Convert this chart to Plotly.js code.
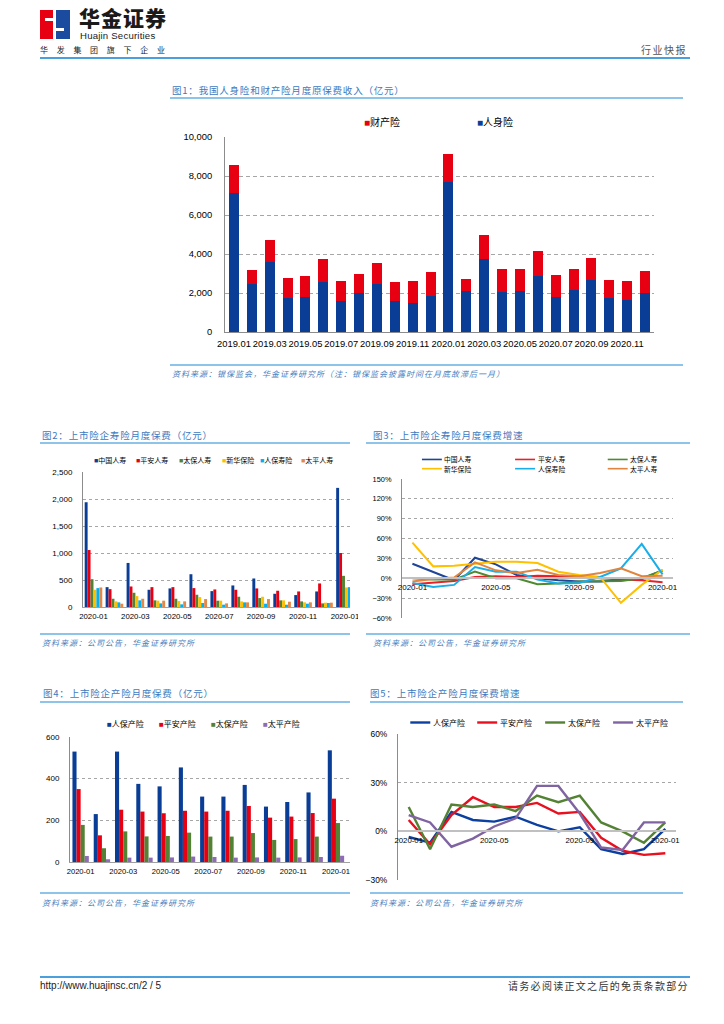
<!DOCTYPE html>
<html><head><meta charset="utf-8">
<script src="https://cdn.plot.ly/plotly-3.0.1.min.js"></script>
<style>
body{margin:0;width:724px;height:1024px;position:relative;background:#fff;overflow:hidden;font-family:"Noto Sans CJK SC",sans-serif;}
.a{position:absolute;white-space:nowrap;}
.ttl{position:absolute;white-space:nowrap;font-size:9.5px;line-height:12px;color:#3d79be;letter-spacing:0.8px;}
.hl{position:absolute;height:2px;background:#8ec4ea;}
.src{position:absolute;white-space:nowrap;font-size:8px;line-height:10px;color:#4a7fc1;font-style:italic;letter-spacing:1px;}
.chart{position:absolute;overflow:hidden;}
</style></head>
<body>
<!-- header -->
<div class="a" style="left:40px;top:10px;width:15px;height:29px;background:#e60012"></div>
<div class="a" style="left:55px;top:10px;width:15px;height:29px;background:#1b4b9e"></div>
<div class="a" style="left:53px;top:10px;width:3px;height:29px;background:#fff"></div>
<div class="a" style="left:45px;top:18px;width:8px;height:3px;background:#fff"></div>
<div class="a" style="left:56px;top:28px;width:8px;height:3px;background:#fff"></div>
<div class="a" style="left:79px;top:4px;font-size:21px;line-height:26px;font-weight:900;color:#1a1a1a;letter-spacing:1px;">华金证券</div>
<div class="a" style="left:80px;top:30px;font-size:9.6px;line-height:11px;font-family:'Liberation Sans',Arial,sans-serif;color:#1a1a1a;letter-spacing:0.2px;">Huajin Securities</div>
<div class="a" style="left:40px;top:45px;font-size:8px;line-height:10px;color:#222;letter-spacing:8.7px;">华发集团旗下企业</div>
<div class="a" style="left:641px;top:44px;font-size:10px;line-height:12px;color:#555;letter-spacing:1.5px;">行业快报</div>
<div class="a" style="left:40px;top:57px;width:650px;height:2px;background:#4aa0dc"></div>

<!-- figure titles & lines -->
<div class="ttl" style="left:172px;top:84px;">图1：我国人身险和财产险月度原保费收入（亿元）</div>
<div class="hl" style="left:170px;top:97px;width:513px;"></div>
<div class="hl" style="left:170px;top:364px;width:513px;"></div>
<div class="src" style="left:172px;top:369px;">资料来源：银保监会，华金证券研究所（注：银保监会披露时间在月底故滞后一月）</div>

<div class="ttl" style="left:42px;top:429px;">图2：上市险企寿险月度保费（亿元）</div>
<div class="hl" style="left:40px;top:442px;width:310px;"></div>
<div class="hl" style="left:40px;top:633px;width:310px;"></div>
<div class="src" style="left:42px;top:638px;">资料来源：公司公告，华金证券研究所</div>

<div class="ttl" style="left:373px;top:429px;">图3：上市险企寿险月度保费增速</div>
<div class="hl" style="left:366px;top:442px;width:324px;"></div>
<div class="hl" style="left:366px;top:633px;width:324px;"></div>
<div class="src" style="left:373px;top:638px;">资料来源：公司公告，华金证券研究所</div>

<div class="ttl" style="left:43px;top:687px;">图4：上市险企产险月度保费（亿元）</div>
<div class="hl" style="left:40px;top:701px;width:310px;"></div>
<div class="hl" style="left:40px;top:892px;width:310px;"></div>
<div class="src" style="left:42px;top:898px;">资料来源：公司公告，华金证券研究所</div>

<div class="ttl" style="left:370px;top:687px;">图5：上市险企产险月度保费增速</div>
<div class="hl" style="left:370px;top:701px;width:313px;"></div>
<div class="hl" style="left:370px;top:892px;width:313px;"></div>
<div class="src" style="left:370px;top:898px;">资料来源：公司公告，华金证券研究所</div>

<!-- footer -->
<div class="a" style="left:40px;top:976px;width:650px;height:2px;background:#4aa0dc"></div>
<div class="a" style="left:40px;top:980px;font-size:10px;line-height:12px;font-family:'Liberation Sans',Arial,sans-serif;color:#222;">http://www.huajinsc.cn/2 / 5</div>
<div class="a" style="left:508px;top:980px;font-size:10px;line-height:12px;color:#333;letter-spacing:1.3px;">请务必阅读正文之后的免责条款部分</div>

<div id="c1" class="chart"></div>
<div id="c2" class="chart"></div>
<div id="c3" class="chart"></div>
<div id="c4" class="chart"></div>
<div id="c5" class="chart"></div>

<script>
// ---------- DATA ----------
const months1 = ['2019.01','2019.02','2019.03','2019.04','2019.05','2019.06','2019.07','2019.08','2019.09','2019.10','2019.11','2019.12',
                 '2020.01','2020.02','2020.03','2020.04','2020.05','2020.06','2020.07','2020.08','2020.09','2020.10','2020.11','2020.12'];
const lifePremium = [7130,2460,3590,1740,1810,2550,1610,1980,2460,1610,1500,1830,7690,2120,3760,2070,2120,2890,1810,2140,2650,1730,1620,2020];
const propertyPremium = [1420,740,1130,1050,1040,1190,990,1010,1080,970,1115,1250,1440,600,1200,1180,1110,1280,1130,1110,1140,940,995,1125];
const ticks1 = ['2019.01','2019.03','2019.05','2019.07','2019.09','2019.11','2020.01','2020.03','2020.05','2020.07','2020.09','2020.11'];

const months2 = ['2020-01','2020-02','2020-03','2020-04','2020-05','2020-06','2020-07','2020-08','2020-09','2020-10','2020-11','2020-12','2021-01'];
const tickVals2 = ['2020-01','2020-03','2020-05','2020-07','2020-09','2020-11','2021-01'];
const tickText2 = ['2020-01','2020-03','2020-05','2020-07','2020-09','2020-11','2020-01'];
const tickVals3 = ['2020-01','2020-05','2020-09','2021-01'];
const tickText3 = ['2020-01','2020-05','2020-09','2020-01'];

const lifeNames = ['中国人寿','平安人寿','太保人寿','新华保险','人保寿险','太平人寿'];
const chinaLife   = [1940,368,816,319,344,607,294,399,528,245,221,288,2206];
const pinganLife  = [1055,331,380,368,368,350,325,319,344,301,288,436,1000];
const cpicLife    = [515,153,264,123,153,227,117,190,166,123,104,67,577];
const ncLife      = [319,104,202,117,110,184,117,104,190,123,86,80,362];
const piccLife    = [350,86,123,67,49,74,43,86,61,43,61,74,368];
const taipingLife = [362,61,153,117,104,147,67,86,147,98,86,80,370];

const chinaLifeG   = [22,10,-3,31,21,5,0,-3,-5,-5,-3,-1,12];
const pinganLifeG  = [-9,-6,-4,2,3,2,4,3,2,0,-2,-3,-6];
const cpicLifeG    = [0,-2,-2,10,0,0,-9,-8,-5,-5,-4,0,12];
const ncLifeG      = [54,18,19,22,25,25,23,10,5,2,-37,-10,13];
const piccLifeG    = [-7,-13,-10,17,10,10,-2,-8,-7,2,15,52,6];
const taipingLifeG = [-5,-1,1,24,12,8,13,5,3,8,15,3,4];

const propNames = ['人保产险','平安产险','太保产险','太平产险'];
const piccProp    = [530,230,530,375,363,454,314,314,370,266,288,334,536];
const pinganProp  = [350,128,251,242,234,246,242,246,269,213,218,235,304];
const cpicProp    = [178,66,147,123,125,141,122,122,139,106,110,122,187];
const taipingProp = [29,13,21,21,22,26,24,21,22,21,22,24,30];

const piccPropG    = [-3.5,-7,12,7,6,9,4,0,2.5,-11,-14,-11,1.5];
const pinganPropG  = [7,-8,10,21,15,15,17.5,11,12,-4,-12,-14.5,-13.5];
const cpicPropG    = [15,-11,16.5,15,16.5,12.5,22,18,22,5.5,0,-7,5.5];
const taipingPropG = [10,5.5,-9.5,-4.5,3,8,28,28,11,-10,-11.5,5.5,5.5];

// ---------- STYLE ----------
const BLUE='#0a3e96', RED='#e60012', GREEN='#548235', YELLOW='#ffc000', CYAN='#00b0f0', ORANGE='#e2884a', PURPLE='#8064a2';
const lifeColors = [BLUE, RED, GREEN, YELLOW, CYAN, ORANGE];
const lifeLineColors = ['#1f4596','#e8202a','#4f8a2f','#ffc000','#19aee9','#e0843e'];
const propColors = [BLUE, RED, GREEN, '#8d6bb5'];
const propLineColors = ['#0b3fa0','#e8101e','#548235','#8064a2'];
const NUMF = 'Liberation Sans, Arial, sans-serif';
const CJK = 'Noto Sans CJK SC, sans-serif';

function px(p,x){return (x-p.x0)/(p.x1-p.x0);}
function py(p,y){return (p.y1-y)/(p.y1-p.y0);}
function boxLeg(p,x,y,color,label,size){
  return {xref:'paper',yref:'paper',x:px(p,x),y:py(p,y),xanchor:'left',yanchor:'middle',showarrow:false,borderpad:0,
    text:'<span style="color:'+color+';font-family:Liberation Sans">■</span>'+label,font:{family:CJK,size:size,color:'#000'}};
}
function lineLeg(p,x0,x1,y,color,label,size,shapes,anns,w){
  shapes.push({type:'line',xref:'paper',yref:'paper',x0:px(p,x0),x1:px(p,x1),y0:py(p,y),y1:py(p,y),line:{color:color,width:w}});
  anns.push({xref:'paper',yref:'paper',x:px(p,x1+1.5),y:py(p,y),xanchor:'left',yanchor:'middle',showarrow:false,borderpad:0,
    text:label,font:{family:CJK,size:size,color:'#000'}});
}
function mk(id,box,p,data,extra){
  const el=document.getElementById(id);
  el.style.left=box.l+'px';el.style.top=box.t+'px';el.style.width=box.w+'px';el.style.height=box.h+'px';
  const layout=Object.assign({
    width:box.w,height:box.h,
    margin:{l:p.x0-box.l,r:box.l+box.w-p.x1,t:p.y0-box.t,b:box.t+box.h-p.y1,pad:0},
    paper_bgcolor:'rgba(0,0,0,0)',plot_bgcolor:'rgba(0,0,0,0)',showlegend:false,
    font:{family:NUMF,size:9,color:'#000'}
  },extra);
  Plotly.newPlot(el,data,layout,{staticPlot:true,displayModeBar:false});
}

// ---------- FIG 1 ----------
(function(){
  const box={l:170,t:100,w:515,h:262}, p={x0:225,y0:137,x1:654,y1:332};
  const data=[
    {type:'bar',name:'人身险',x:months1,y:lifePremium,marker:{color:BLUE}},
    {type:'bar',name:'财产险',x:months1,y:propertyPremium,marker:{color:RED}}
  ];
  mk('c1',box,p,data,{
    barmode:'stack',bargap:0.44,
    xaxis:{type:'category',range:[-0.5,23.5],tickvals:ticks1,ticktext:ticks1,ticks:'',tickangle:0,showline:true,linecolor:'#8c8c8c',linewidth:1,
           tickfont:{size:9.4,family:NUMF},showgrid:false,ticklabelstandoff:3},
    yaxis:{range:[0,10000],tickvals:[0,2000,4000,6000,8000,10000],tickformat:',',showline:true,linecolor:'#8c8c8c',
           gridcolor:'#a6a6a6',griddash:'4px,3px',zeroline:false,ticks:'',ticklabelstandoff:10,tickfont:{size:9.4,family:NUMF}},
    annotations:[boxLeg(p,363,121,RED,'财产险',10),boxLeg(p,476,121,BLUE,'人身险',10)]
  });
})();

// ---------- FIG 2 ----------
(function(){
  const box={l:35,t:447,w:323,h:185}, p={x0:82.5,y0:472,x1:350,y1:607};
  const series=[chinaLife,pinganLife,cpicLife,ncLife,piccLife,taipingLife];
  const data=series.map((s,i)=>({type:'bar',name:lifeNames[i],x:months2,y:s,marker:{color:lifeColors[i]}}));
  const legX=[93,135,178,221,259,300];
  mk('c2',box,p,data,{
    barmode:'group',bargap:0.16,bargroupgap:0,
    xaxis:{type:'category',range:[-0.5,12.24],tickvals:tickVals2,ticktext:tickText2,ticks:'',tickangle:0,showline:true,linecolor:'#a0a0a0',
           tickfont:{size:7.8,family:NUMF},showgrid:false,ticklabelstandoff:2},
    yaxis:{range:[0,2500],dtick:500,tickformat:',',showline:true,linecolor:'#8c8c8c',gridcolor:'#a6a6a6',griddash:'3px,3px',
           zeroline:false,ticks:'',ticklabelstandoff:8,tickfont:{size:8,family:NUMF}},
    annotations:lifeNames.map((n,i)=>boxLeg(p,legX[i],459.5,lifeColors[i],n,7))
  });
})();

// ---------- FIG 3 ----------
(function(){
  const box={l:362,t:447,w:328,h:185}, p={x0:401.5,y0:479,x1:673.5,y1:617.7};
  const series=[chinaLifeG,pinganLifeG,cpicLifeG,ncLifeG,piccLifeG,taipingLifeG];
  const data=series.map((s,i)=>({type:'scatter',mode:'lines',name:lifeNames[i],x:months2,y:s,line:{color:lifeLineColors[i],width:2}}));
  const ymin=-60,ymax=150;
  const shapes=[],anns=[];
  const lx=[421.5,515,608], ly=[459.5,468.7];
  lifeNames.forEach((n,i)=>{const c=i%3,r=Math.floor(i/3);lineLeg(p,lx[c],lx[c]+20,ly[r],lifeLineColors[i],n,6.8,shapes,anns,1.6);});
  mk('c3',box,p,data,{
    xaxis:{type:'category',range:[-0.5,12.5],tickvals:tickVals3,ticktext:tickText3,ticks:'',tickangle:0,anchor:'free',
           position:(0-ymin)/(ymax-ymin),showline:true,linecolor:'#c0c0c0',linewidth:2,showgrid:false,
           tickfont:{size:8,family:NUMF},ticklabelstandoff:1},
    yaxis:{range:[ymin,ymax],dtick:30,ticksuffix:'%',showline:true,linecolor:'#8c8c8c',gridcolor:'#a6a6a6',griddash:'3px,3px',
           zeroline:false,ticks:'',ticklabelstandoff:8,tickfont:{size:7.4,family:NUMF}},
    shapes:shapes,annotations:anns
  });
})();

// ---------- FIG 4 ----------
(function(){
  const box={l:35,t:707,w:323,h:185}, p={x0:70.4,y0:737.3,x1:350,y1:862.3};
  const series=[piccProp,pinganProp,cpicProp,taipingProp];
  const data=series.map((s,i)=>({type:'bar',name:propNames[i],x:months2,y:s,marker:{color:propColors[i]}}));
  const legX=[106,158,210,262];
  mk('c4',box,p,data,{
    barmode:'group',bargap:0.23,bargroupgap:0,
    xaxis:{type:'category',range:[-0.5,12.66],tickvals:tickVals2,ticktext:tickText2,ticks:'',tickangle:0,showline:true,linecolor:'#a0a0a0',
           tickfont:{size:7.6,family:NUMF},showgrid:false,ticklabelstandoff:2},
    yaxis:{range:[0,600],dtick:200,showline:true,linecolor:'#8c8c8c',gridcolor:'#a6a6a6',griddash:'3px,3px',
           zeroline:false,ticks:'',ticklabelstandoff:8,tickfont:{size:8,family:NUMF}},
    annotations:propNames.map((n,i)=>boxLeg(p,legX[i],723.5,propColors[i],n,8))
  });
})();

// ---------- FIG 5 ----------
(function(){
  const box={l:362,t:707,w:321,h:185}, p={x0:397.7,y0:734,x1:676,y1:880};
  const series=[piccPropG,pinganPropG,cpicPropG,taipingPropG];
  const data=series.map((s,i)=>({type:'scatter',mode:'lines',name:propNames[i],x:months2,y:s,line:{color:propLineColors[i],width:2.4}}));
  const ymin=-30,ymax=60;
  const shapes=[],anns=[];
  const lx=[410,477,545,613];
  propNames.forEach((n,i)=>lineLeg(p,lx[i],lx[i]+20,722.5,propLineColors[i],n,8,shapes,anns,2.4));
  mk('c5',box,p,data,{
    xaxis:{type:'category',range:[-0.5,12.5],tickvals:tickVals3,ticktext:tickText3,ticks:'',tickangle:0,anchor:'free',
           position:(0-ymin)/(ymax-ymin),showline:true,linecolor:'#c0c0c0',linewidth:2,showgrid:false,
           tickfont:{size:7.8,family:NUMF},ticklabelstandoff:1},
    yaxis:{range:[ymin,ymax],dtick:30,ticksuffix:'%',showline:true,linecolor:'#8c8c8c',gridcolor:'#a6a6a6',griddash:'3px,3px',
           zeroline:false,ticks:'',ticklabelstandoff:8,tickfont:{size:8.4,family:NUMF}},
    shapes:shapes,annotations:anns
  });
})();
</script>
</body></html>
